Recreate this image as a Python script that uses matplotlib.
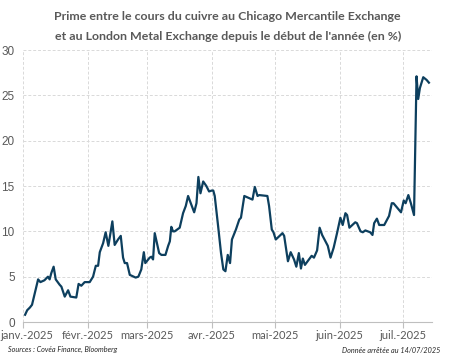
import pandas as pd
import matplotlib
matplotlib.use("Agg")
import matplotlib.pyplot as plt
from matplotlib.transforms import ScaledTranslation

# jours depuis le 1er janvier 2025 et prime CME / LME (%)
jours = [1.0, 2.0, 3.3, 4.3, 7.2, 8.3, 10.2, 11.9, 12.7, 13.5, 14.6, 15.6, 17.5, 18.3,
         19.9, 21.5, 22.6, 25.4, 26.5, 27.8, 29.4, 31.8, 33.4, 34.7, 35.8, 36.6, 38.2,
         39.4, 40.7, 42.6, 43.7, 45.3, 46.6, 47.7, 48.5, 49.6, 50.9, 53.7, 55.0, 56.4,
         57.6, 58.3, 60.4, 61.2, 62.0, 62.8, 64.9, 66.0, 67.9, 69.2, 70.0, 70.7, 71.5,
         72.3, 74.7, 76.3, 77.6, 78.7, 81.6, 82.7, 83.6, 84.6, 85.9, 87.4, 88.7, 90.0,
         90.7, 91.4, 93.0, 94.4, 95.5, 96.5, 97.6, 98.7, 99.6, 101.5, 103.1, 103.9,
         105.5, 109.4, 110.5, 111.8, 112.6, 116.5, 117.3, 118.6, 119.4, 120.5, 123.7,
         124.5, 126.3, 127.6, 129.2, 130.3, 131.5, 132.5, 133.4, 134.4, 136.3, 137.6,
         138.7, 140.2, 141.4, 142.6, 145.3, 146.6, 148.1, 149.7, 151.3, 152.4, 153.7,
         154.5, 155.6, 158.4, 159.2, 160.9, 162.0, 163.2, 165.5, 166.6, 167.4, 168.7,
         169.8, 172.2, 174.5, 175.8, 176.6, 180.2, 181.5, 182.4, 183.7, 184.9, 186.4,
         187.6, 188.4, 189.2, 190.8, 192.4, 193.5]
prime = [0.8, 1.3, 1.6, 1.9, 4.7, 4.4, 4.6, 5.0, 4.7, 5.4, 6.1, 4.7, 4.1, 3.9,
         2.8, 3.5, 2.8, 2.7, 4.2, 4.0, 4.4, 4.4, 5.0, 6.2, 6.2, 7.7, 8.7,
         9.9, 8.4, 11.1, 8.5, 9.1, 9.5, 7.1, 6.5, 6.5, 5.2, 4.9, 5.0, 5.8,
         7.7, 6.5, 7.1, 7.2, 6.9, 9.8, 7.6, 7.4, 7.4, 8.4, 8.9, 10.5, 10.0,
         10.0, 10.4, 12.0, 12.8, 13.9, 12.1, 13.1, 16.0, 14.2, 15.5, 15.0, 14.4, 14.5,
         14.5, 13.9, 10.6, 7.6, 5.8, 5.6, 7.4, 6.5, 9.1, 10.2, 11.3, 11.5,
         13.9, 13.5, 14.9, 13.9, 14.0, 13.9, 12.8, 10.2, 9.9, 9.1, 9.8,
         9.5, 6.7, 7.7, 6.9, 6.1, 7.6, 5.9, 7.0, 6.3, 6.9, 7.3,
         7.1, 7.9, 10.4, 9.6, 8.4, 7.1, 8.2, 9.8, 11.5, 10.7, 12.0,
         11.8, 10.4, 11.0, 10.9, 10.0, 9.9, 10.1, 9.9, 9.6, 10.9, 11.4,
         10.7, 10.7, 11.7, 13.1, 13.1, 12.1, 13.4, 13.1, 14.0, 13.1, 11.8,
         27.1, 24.6, 25.8, 27.0, 26.7, 26.4]

mois = ["janv.-2025", "févr.-2025", "mars-2025", "avr.-2025", "mai-2025",
        "juin-2025", "juil.-2025"]

debut = pd.Timestamp("2025-01-01")
dates = [debut + pd.to_timedelta(j, unit="D") for j in jours]
ticks = pd.date_range("2025-01-01", periods=len(mois), freq="MS")

gris = "#595959"
plt.rcParams["font.family"] = ["Lato", "DejaVu Sans"]

fig = plt.figure(figsize=(4.51, 3.56), dpi=100)
ax = fig.add_axes([0.051, 0.0955, 0.907, 0.764])

ax.plot(dates, prime, color="#0d3f5e", linewidth=1.6, solid_joinstyle="round")

ax.set_ylim(0, 30)
ax.set_yticks(range(0, 31, 5))
ax.set_xlim(debut, debut + pd.Timedelta(days=195))
ax.set_xticks(ticks)
ax.set_xticklabels(mois)

ax.grid(True, color="#d9d9d9", linestyle=(0, (3, 2)), linewidth=0.7)
ax.set_axisbelow(True)
for s in ["top", "right", "left"]:
    ax.spines[s].set_visible(False)
ax.spines["bottom"].set_color("#bfbfbf")
ax.tick_params(axis="y", length=0, labelsize=8.5, labelcolor=gris, pad=6)
ax.tick_params(axis="x", length=4, color="#bfbfbf", labelsize=8, labelcolor=gris, pad=2)
for lab in ax.get_yticklabels():
    lab.set_fontfamily(["Liberation Sans", "DejaVu Sans"])
# décale un peu la première étiquette pour qu'elle ne soit pas coupée
premiere = ax.get_xticklabels()[0]
premiere.set_transform(premiere.get_transform() + ScaledTranslation(3 / 72, 0, fig.dpi_scale_trans))

fig.text(0.505, 0.953, "Prime entre le cours du cuivre au Chicago Mercantile Exchange",
         ha="center", va="center", fontsize=8.9, fontweight="bold", color=gris)
fig.text(0.505, 0.898, "et au London Metal Exchange depuis le début de l'année (en %)",
         ha="center", va="center", fontsize=8.9, fontweight="bold", color=gris)

fig.text(0.018, 0.018, "Sources : Covéa Finance, Bloomberg", ha="left", va="center",
         fontsize=5.2, style="italic", color="#262626")
fig.text(0.976, 0.015, "Donnée arrêtée au 14/07/2025", ha="right", va="center",
         fontsize=5.2, style="italic", color="#262626")

fig.savefig("out.png", dpi=100)
